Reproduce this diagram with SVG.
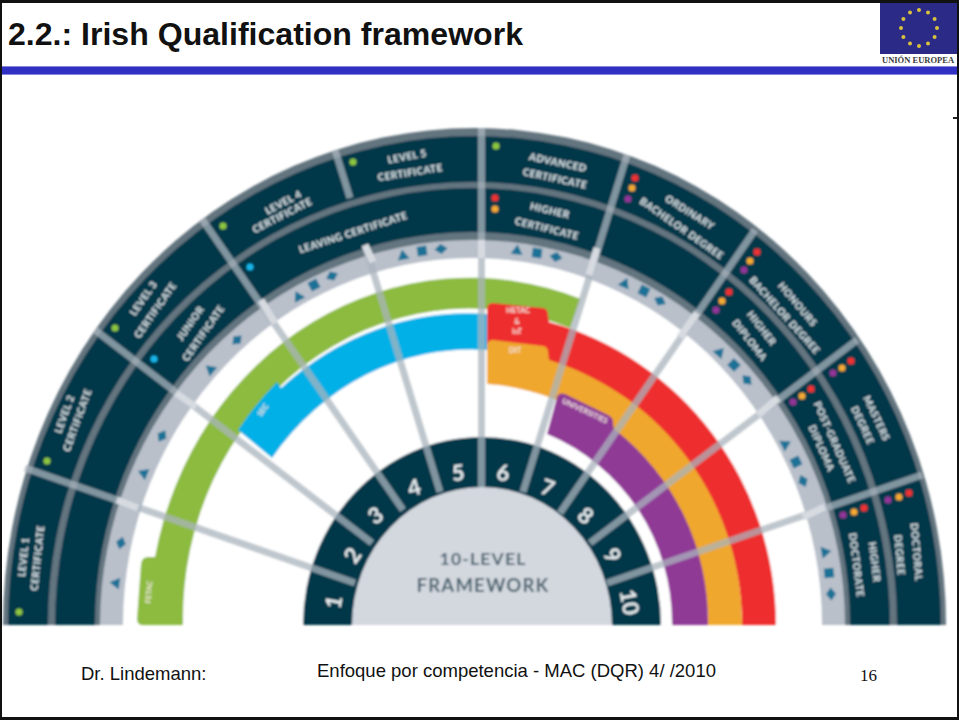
<svg xmlns="http://www.w3.org/2000/svg" width="959" height="720" viewBox="0 0 959 720">
<style>
.lab{font-family:"Lato","Open Sans",sans-serif;font-weight:900;font-size:10px;letter-spacing:.4px;fill:#dde5e9;text-anchor:middle;dominant-baseline:central}
.num{font-family:"Lato","Open Sans",sans-serif;font-weight:700;font-size:22px;fill:#e8eef0;text-anchor:middle;dominant-baseline:central}
.hubt{font-family:"Lato","Open Sans",sans-serif;font-weight:700;font-size:18.500px;letter-spacing:1.200px;fill:#48626f;text-anchor:middle}
.prov{font-family:"Lato","Open Sans",sans-serif;font-weight:700;font-size:7.500px;fill:#f3e9e0;text-anchor:middle;dominant-baseline:central}
.foot{font-family:"Liberation Sans",Arial,sans-serif;font-size:18.500px;fill:#111}
.dv{fill:none;stroke:#a9b4be;stroke-width:7;stroke-opacity:.75}
.bx{fill:none;stroke:#d7dbe1;stroke-width:7}
.stripe{fill:#63747f}.dark{fill:#063849}
.g{fill:#8cc63f}.b{fill:#19b5ea}.r{fill:#ef3030}.o{fill:#f4a932}.p{fill:#93349a}
.sy{fill:#1b7296}
</style>
<defs>
<filter id="soft" x="-2%" y="-2%" width="104%" height="104%"><feGaussianBlur stdDeviation="0.9"/></filter>
<path id="tri" d="M0-5.500 6 4.500H-6Z"/>
<rect id="sq" x="-4.800" y="-4.800" width="9.600" height="9.600"/>
<path id="dia" d="M0-5 6.500 0 0 5-6.500 0Z"/>
<circle id="star" r="2" fill="#d9c23f"/>
</defs>

<rect width="959" height="720" fill="#fff"/>

<g id="chart" filter="url(#soft)">
<g id="rings">
<path class="stripe" d="M3 625A471.500 497 0 0 1 946 625Z"/>
<path class="dark" d="M8 625A466.500 489 0 0 1 941 625Z"/>
<path class="stripe" d="M48 625A424.500 443 0 0 1 897 625Z"/>
<path class="dark" d="M55 625A417.500 437 0 0 1 890 625Z"/>
<path class="stripe" d="M95 625A377.500 393 0 0 1 850 625Z"/>
<path fill="#b9c0ca" d="M100 625A372.500 385 0 0 1 845 625Z"/>
<path fill="#fff" d="M123 625A349.500 367 0 0 1 822 625Z"/>
</g>

<g id="providers">
<path fill="#8cbb3f" d="M143 625Q137 625 137 619L141 564Q142 557 148 557L155 557A321 346 0 0 1 581 299L570 328A287 310 0 0 0 183 625Z"/>
<path fill="#06b0e6" d="M238 430A297 320 0 0 1 277 382L281 388A287 310 0 0 1 487 314L487 350A250 274 0 0 0 272 458Z"/>
<path fill="#ee2e2f" d="M487 309Q487 303 493 303L543 308Q548 309 548 315L549 322A306 314 0 0 1 776 625L742 625A272 276 0 0 0 487 350Z"/>
<path fill="#f0a72f" d="M487 346Q487 340 493 340L543 346Q548 347 548 352L549 360A272 276 0 0 1 742 625L708 625A238 242 0 0 0 487 384Z"/>
<path fill="#8f3b96" d="M547 434L557 397Q559 392 565 394L608 415Q614 418 613 424L614 429A238 242 0 0 1 708 625L672 625A202 204 0 0 0 547 434Z"/>
<g id="provider-fetac"><text class="prov" transform="translate(149 592) rotate(-85)">FETAC</text></g>
<g id="provider-sec"><text class="prov" transform="translate(263 410) rotate(-55)">SEC</text></g>
<g id="provider-hetac"><text class="prov" x="518" y="310">HETAC</text><text class="prov" x="517" y="321">&amp;</text><text class="prov" x="517" y="331">IoT</text></g>
<g id="provider-dit"><text class="prov" x="515" y="350">DIT</text></g>
<g id="provider-universities"><text class="prov" transform="translate(585 411) rotate(25)">UNIVERSITIES</text></g>
</g>

<g id="hub-base">
<path class="dark" d="M303 625A179 188 0 0 1 661 625Z"/>
<path fill="#d3d7de" d="M352 625A130 138 0 0 1 612 625Z"/>
</g>

<g id="connectors">
<path class="dv" d="M355 583L25 468"/>
<path class="dv" d="M372 543L95 330"/>
<path class="dv" d="M403 510L202 219"/>
<path class="dv" d="M440 492L365 245"/>
<path class="dv" d="M350 198L335 150"/>
<path class="dv" d="M481.500 487V128"/>
<path class="dv" d="M523 492L627 155"/>
<path class="dv" d="M560 513L755 230"/>
<path class="dv" d="M590 543L857 340"/>
<path class="dv" d="M607 583L922 475"/>
<path class="bx" d="M117 500L138 508"/>
<path class="bx" d="M176 393L196 407"/>
<path class="bx" d="M261 300L275 323"/>
<path class="bx" d="M365 245L373 262"/>
<path class="bx" d="M481.500 240V258"/>
<path class="bx" d="M597 248L589 275"/>
<path class="bx" d="M697 313L680 337"/>
<path class="bx" d="M778 398L758 415"/>
<path class="bx" d="M825 507L803 517"/>
</g>

<g id="band-symbols" class="sy">
<use href="#tri" transform="translate(115 583) rotate(-82)"/><use href="#dia" transform="translate(121 543) rotate(-75)"/>
<use href="#tri" transform="translate(143 473) rotate(-68)"/><use href="#dia" transform="translate(162 436) rotate(-60)"/>
<use href="#tri" transform="translate(210 369) rotate(-50)"/><use href="#dia" transform="translate(237 340) rotate(-45)"/>
<use href="#tri" transform="translate(298 296) rotate(-28)"/><use href="#sq" transform="translate(314 285) rotate(-28)"/><use href="#dia" transform="translate(332 276) rotate(-25)"/>
<use href="#tri" transform="translate(403 255) rotate(-10)"/><use href="#sq" transform="translate(422 251) rotate(-8)"/><use href="#dia" transform="translate(441 249) rotate(-6)"/>
<use href="#tri" transform="translate(517 250) rotate(6)"/><use href="#sq" transform="translate(537 253) rotate(8)"/><use href="#dia" transform="translate(556 257) rotate(10)"/>
<use href="#tri" transform="translate(625 283) rotate(24)"/><use href="#sq" transform="translate(644 291) rotate(26)"/><use href="#dia" transform="translate(660 301) rotate(28)"/>
<use href="#tri" transform="translate(720 352) rotate(42)"/><use href="#sq" transform="translate(734 365) rotate(44)"/><use href="#dia" transform="translate(747 380) rotate(46)"/>
<use href="#tri" transform="translate(786 444) rotate(62)"/><use href="#sq" transform="translate(796 462) rotate(64)"/><use href="#dia" transform="translate(803 481) rotate(66)"/>
<use href="#tri" transform="translate(826 552) rotate(80)"/><use href="#sq" transform="translate(829 573) rotate(84)"/><use href="#dia" transform="translate(831 594) rotate(86)"/>
</g>

<g id="level-1"><circle class="g" cx="19" cy="612" r="3.500"/><text class="lab" transform="translate(23 557) rotate(-84)">LEVEL 1</text><text class="lab" transform="translate(37 558) rotate(-84)">CERTIFICATE</text></g>
<g id="level-2"><circle class="g" cx="47" cy="461" r="3.500"/><text class="lab" transform="translate(64 414) rotate(-70)">LEVEL 2</text><text class="lab" transform="translate(77 420) rotate(-70)">CERTIFICATE</text></g>
<g id="level-3"><circle class="g" cx="115" cy="328" r="3.500"/><text class="lab" transform="translate(143 298) rotate(-55)">LEVEL 3</text><text class="lab" transform="translate(155 310) rotate(-55)">CERTIFICATE</text></g>
<g id="junior"><circle class="b" cx="154" cy="359" r="3.500"/><text class="lab" transform="translate(190 323) rotate(-55)">JUNIOR</text><text class="lab" transform="translate(203 333) rotate(-55)">CERTIFICATE</text></g>
<g id="level-4"><circle class="g" cx="223" cy="226" r="3.500"/><text class="lab" transform="translate(283 202) rotate(-28)">LEVEL 4</text><text class="lab" transform="translate(282 215) rotate(-27)">CERTIFICATE</text></g>
<g id="leaving"><circle class="b" cx="250" cy="267" r="3.500"/><text class="lab" transform="translate(353 232) rotate(-18)">LEAVING CERTIFICATE</text></g>
<g id="level-5"><circle class="g" cx="353" cy="162" r="3.500"/><text class="lab" transform="translate(407 156) rotate(-10)">LEVEL 5</text><text class="lab" transform="translate(410 172) rotate(-9)">CERTIFICATE</text></g>
<g id="advanced"><circle class="g" cx="496" cy="146" r="3.500"/><text class="lab" transform="translate(558 162) rotate(12)">ADVANCED</text><text class="lab" transform="translate(555 178) rotate(12)">CERTIFICATE</text></g>
<g id="higher-cert"><circle class="r" cx="495" cy="198" r="3.500"/><circle class="o" cx="495" cy="209" r="3.500"/><text class="lab" transform="translate(550 210) rotate(13)">HIGHER</text><text class="lab" transform="translate(547 228) rotate(14)">CERTIFICATE</text></g>
<g id="ordinary"><circle class="r" cx="635" cy="178" r="3.500"/><circle class="o" cx="632" cy="188" r="3.500"/><circle class="p" cx="628" cy="199" r="3.500"/><text class="lab" transform="translate(690 212) rotate(32)">ORDINARY</text><text class="lab" transform="translate(682 228) rotate(35)">BACHELOR DEGREE</text></g>
<g id="honours"><circle class="r" cx="757" cy="252" r="3.500"/><circle class="o" cx="750" cy="261" r="3.500"/><circle class="p" cx="744" cy="270" r="3.500"/><text class="lab" transform="translate(798 304) rotate(50)">HONOURS</text><text class="lab" transform="translate(785 315) rotate(48)">BACHELOR DEGREE</text></g>
<g id="higher-diploma"><circle class="r" cx="729" cy="292" r="3.500"/><circle class="o" cx="722" cy="301" r="3.500"/><circle class="p" cx="716" cy="310" r="3.500"/><text class="lab" transform="translate(762 328) rotate(52)">HIGHER</text><text class="lab" transform="translate(750 340) rotate(52)">DIPLOMA</text></g>
<g id="masters"><circle class="r" cx="851" cy="361" r="3.500"/><circle class="o" cx="842" cy="368" r="3.500"/><circle class="p" cx="833" cy="373" r="3.500"/><text class="lab" transform="translate(877 418) rotate(65)">MASTERS</text><text class="lab" transform="translate(863 425) rotate(65)">DEGREE</text></g>
<g id="post-graduate"><circle class="r" cx="811" cy="389" r="3.500"/><circle class="o" cx="802" cy="396" r="3.500"/><circle class="p" cx="793" cy="402" r="3.500"/><text class="lab" transform="translate(835 442) rotate(66)">POST-GRADUATE</text><text class="lab" transform="translate(822 448) rotate(66)">DIPLOMA</text></g>
<g id="doctoral"><circle class="r" cx="909" cy="493" r="3.500"/><circle class="o" cx="899" cy="497" r="3.500"/><circle class="p" cx="888" cy="500" r="3.500"/><text class="lab" transform="translate(917 552) rotate(85)">DOCTORAL</text><text class="lab" transform="translate(900 555) rotate(85)">DEGREE</text></g>
<g id="higher-doctorate"><circle class="r" cx="864" cy="508" r="3.500"/><circle class="o" cx="854" cy="512" r="3.500"/><circle class="p" cx="843" cy="515" r="3.500"/><text class="lab" transform="translate(875 562) rotate(83)">HIGHER</text><text class="lab" transform="translate(857 565) rotate(83)">DOCTORATE</text></g>

<g id="hub">
<text class="num" transform="translate(333 602) rotate(-80)">1</text>
<text class="num" transform="translate(352 555) rotate(-55)">2</text>
<text class="num" transform="translate(375 515) rotate(-35)">3</text>
<text class="num" transform="translate(414 487) rotate(-15)">4</text>
<text class="num" transform="translate(458 472) rotate(-5)">5</text>
<text class="num" transform="translate(503 472) rotate(5)">6</text>
<text class="num" transform="translate(548 487) rotate(20)">7</text>
<text class="num" transform="translate(586 515) rotate(40)">8</text>
<text class="num" transform="translate(613 555) rotate(60)">9</text>
<text class="num" transform="translate(630 602) rotate(80)">10</text>
<text class="hubt" x="483" y="565" style="font-size:17.500px">10-LEVEL</text>
<text class="hubt" x="483" y="592">FRAMEWORK</text>
</g>
</g>

<g id="frame">
<rect x="0" y="0" width="959" height="3" fill="#111"/>
<rect x="0" y="0" width="2" height="720" fill="#111"/>
<rect x="957" y="0" width="2" height="720" fill="#111"/>
<rect x="0" y="717" width="959" height="3" fill="#111"/>
<rect x="953" y="117" width="4" height="2" fill="#222"/>
</g>

<g id="header">
<rect x="2" y="66" width="955" height="9" fill="#8686dc"/>
<rect x="2" y="67" width="955" height="7" fill="#3030c2"/>
<text x="8" y="45" font-family="Liberation Sans, Arial, sans-serif" font-weight="700" font-size="32" fill="#111" textLength="515" lengthAdjust="spacingAndGlyphs">2.2.: Irish Qualification framework</text>
</g>

<g id="logo">
<rect x="880" y="3" width="77" height="51" fill="#2b2a86"/>
<g transform="translate(919 28)">
<use href="#star" x="0" y="-18"/><use href="#star" x="9" y="-15.600"/><use href="#star" x="15.600" y="-9"/><use href="#star" x="18" y="0"/><use href="#star" x="15.600" y="9"/><use href="#star" x="9" y="15.600"/><use href="#star" x="0" y="18"/><use href="#star" x="-9" y="15.600"/><use href="#star" x="-15.600" y="9"/><use href="#star" x="-18" y="0"/><use href="#star" x="-15.600" y="-9"/><use href="#star" x="-9" y="-15.600"/>
</g>
<text x="882" y="63" font-family="Liberation Serif, Times New Roman, serif" font-weight="700" font-size="8.500" fill="#3a3a3a">UNIÓN EUROPEA</text>
</g>

<g id="footer">
<text class="foot" x="81" y="680">Dr. Lindemann:</text>
<text class="foot" x="317" y="677">Enfoque por competencia - MAC (DQR) 4/ /2010</text>
<text x="860" y="681" font-family="Liberation Serif, Times New Roman, serif" font-size="17" fill="#111">16</text>
</g>
</svg>
